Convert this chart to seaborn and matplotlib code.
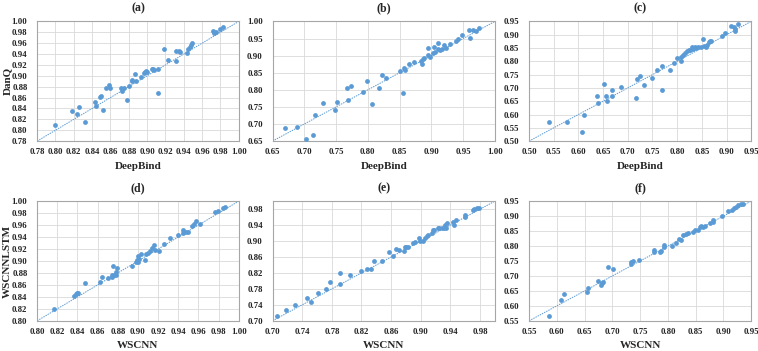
import numpy as np
import matplotlib
matplotlib.use("Agg")
import matplotlib.pyplot as plt
import seaborn as sns

# --- data ---
a_x = [0.800, 0.818, 0.823, 0.826, 0.832, 0.843, 0.844, 0.849, 0.850, 0.852, 0.855, 0.858,
       0.860, 0.871, 0.873, 0.875, 0.878, 0.880, 0.883, 0.884, 0.887, 0.888, 0.893, 0.897,
       0.898, 0.899, 0.900, 0.905, 0.906, 0.908, 0.912, 0.912, 0.918, 0.923, 0.932, 0.932,
       0.935, 0.936, 0.944, 0.945, 0.947, 0.948, 0.949, 0.972, 0.973, 0.975, 0.979, 0.983]
a_y = [0.809, 0.835, 0.830, 0.843, 0.815, 0.852, 0.845, 0.861, 0.863, 0.837, 0.878, 0.884,
       0.877, 0.878, 0.873, 0.878, 0.855, 0.882, 0.891, 0.892, 0.904, 0.891, 0.898, 0.906,
       0.907, 0.908, 0.907, 0.913, 0.913, 0.910, 0.913, 0.868, 0.949, 0.929, 0.945, 0.928,
       0.945, 0.943, 0.942, 0.950, 0.953, 0.956, 0.961, 0.982, 0.979, 0.980, 0.986, 0.989]

b_x = [0.670, 0.689, 0.702, 0.714, 0.717, 0.730, 0.749, 0.752, 0.767, 0.769, 0.774, 0.792,
       0.798, 0.807, 0.817, 0.823, 0.829, 0.850, 0.856, 0.857, 0.859, 0.864, 0.872, 0.884,
       0.885, 0.887, 0.889, 0.894, 0.895, 0.897, 0.902, 0.904, 0.906, 0.910, 0.911, 0.914,
       0.917, 0.920, 0.923, 0.929, 0.938, 0.942, 0.948, 0.959, 0.961, 0.966, 0.970, 0.975]
b_y = [0.688, 0.690, 0.656, 0.668, 0.727, 0.762, 0.742, 0.763, 0.805, 0.771, 0.810, 0.794,
       0.827, 0.758, 0.805, 0.843, 0.835, 0.855, 0.790, 0.864, 0.857, 0.875, 0.882, 0.884,
       0.874, 0.889, 0.894, 0.922, 0.902, 0.897, 0.908, 0.924, 0.912, 0.920, 0.936, 0.917,
       0.920, 0.930, 0.922, 0.933, 0.942, 0.948, 0.960, 0.974, 0.951, 0.976, 0.973, 0.982]

c_x = [0.541, 0.576, 0.611, 0.608, 0.640, 0.637, 0.652, 0.656, 0.657, 0.667, 0.667, 0.687,
       0.717, 0.718, 0.725, 0.732, 0.750, 0.759, 0.770, 0.770, 0.785, 0.794, 0.799, 0.807,
       0.808, 0.811, 0.816, 0.820, 0.824, 0.827, 0.830, 0.833, 0.837, 0.839, 0.843, 0.848,
       0.852, 0.854, 0.858, 0.861, 0.865, 0.867, 0.869, 0.890, 0.896, 0.909, 0.915, 0.917,
       0.918, 0.923]
c_y = [0.573, 0.570, 0.600, 0.535, 0.643, 0.671, 0.713, 0.671, 0.651, 0.694, 0.671, 0.703,
       0.663, 0.733, 0.743, 0.710, 0.736, 0.766, 0.781, 0.694, 0.768, 0.794, 0.811, 0.802,
       0.815, 0.825, 0.830, 0.837, 0.844, 0.842, 0.852, 0.846, 0.852, 0.849, 0.852, 0.852,
       0.884, 0.857, 0.855, 0.861, 0.871, 0.875, 0.877, 0.894, 0.906, 0.931, 0.930, 0.915,
       0.921, 0.940]

d_x = [0.817, 0.837, 0.839, 0.840, 0.841, 0.847, 0.862, 0.864, 0.870, 0.874, 0.874, 0.875,
       0.876, 0.878, 0.879, 0.878, 0.894, 0.898, 0.899, 0.900, 0.900, 0.901, 0.903, 0.907,
       0.908, 0.910, 0.912, 0.914, 0.916, 0.917, 0.921, 0.926, 0.932, 0.940, 0.945, 0.945,
       0.948, 0.950, 0.954, 0.956, 0.958, 0.962, 0.976, 0.979, 0.984, 0.986]
d_y = [0.820, 0.842, 0.844, 0.846, 0.847, 0.864, 0.865, 0.874, 0.871, 0.877, 0.874, 0.892,
       0.876, 0.882, 0.889, 0.876, 0.891, 0.898, 0.902, 0.908, 0.899, 0.904, 0.911, 0.901,
       0.912, 0.913, 0.916, 0.922, 0.926, 0.918, 0.916, 0.928, 0.938, 0.943, 0.952, 0.946,
       0.949, 0.948, 0.959, 0.961, 0.967, 0.962, 0.981, 0.983, 0.989, 0.991]

e_x = [0.706, 0.718, 0.730, 0.747, 0.752, 0.762, 0.772, 0.777, 0.791, 0.791, 0.804, 0.820,
       0.827, 0.833, 0.837, 0.847, 0.857, 0.862, 0.866, 0.870, 0.877, 0.878, 0.880, 0.883,
       0.890, 0.892, 0.898, 0.899, 0.903, 0.906, 0.909, 0.910, 0.915, 0.916, 0.918, 0.923,
       0.925, 0.928, 0.931, 0.933, 0.934, 0.935, 0.943, 0.945, 0.948, 0.959, 0.960, 0.970,
       0.972, 0.976, 0.978]
e_y = [0.712, 0.726, 0.739, 0.757, 0.746, 0.770, 0.779, 0.798, 0.820, 0.793, 0.816, 0.826,
       0.831, 0.831, 0.849, 0.850, 0.873, 0.863, 0.879, 0.878, 0.875, 0.885, 0.884, 0.886,
       0.895, 0.898, 0.908, 0.901, 0.901, 0.907, 0.913, 0.915, 0.920, 0.928, 0.927, 0.933,
       0.933, 0.933, 0.933, 0.939, 0.933, 0.944, 0.947, 0.940, 0.952, 0.965, 0.960, 0.979,
       0.980, 0.982, 0.983]

f_x = [0.586, 0.607, 0.613, 0.654, 0.657, 0.674, 0.680, 0.681, 0.683, 0.693, 0.702, 0.733,
       0.734, 0.738, 0.748, 0.775, 0.775, 0.785, 0.788, 0.793, 0.793, 0.807, 0.815, 0.820,
       0.823, 0.828, 0.832, 0.837, 0.845, 0.848, 0.854, 0.857, 0.860, 0.863, 0.867, 0.875,
       0.882, 0.882, 0.898, 0.908, 0.916, 0.919, 0.922, 0.926, 0.931, 0.935]
f_y = [0.567, 0.618, 0.641, 0.647, 0.660, 0.683, 0.669, 0.678, 0.681, 0.729, 0.724, 0.741,
       0.747, 0.749, 0.754, 0.786, 0.780, 0.780, 0.784, 0.802, 0.797, 0.799, 0.810, 0.822,
       0.821, 0.838, 0.840, 0.843, 0.847, 0.854, 0.854, 0.863, 0.866, 0.862, 0.868, 0.877,
       0.886, 0.880, 0.899, 0.917, 0.922, 0.927, 0.931, 0.938, 0.939, 0.940]

titles = ["(a)", "(b)", "(c)", "(d)", "(e)", "(f)"]
xlabels = ["DeepBind", "DeepBind", "DeepBind", "WSCNN", "WSCNN", "WSCNN"]
ylabels = ["DanQ", "", "", "WSCNNLSTM", "", ""]
# axis range and tick step per panel
limits = [(0.78, 1.00, 0.02), (0.65, 1.00, 0.05), (0.50, 0.95, 0.05),
          (0.80, 1.00, 0.02), (0.70, 1.00, 0.04), (0.55, 0.95, 0.05)]
series = [(a_x, a_y), (b_x, b_y), (c_x, c_y), (d_x, d_y), (e_x, e_y), (f_x, f_y)]

sns.set_theme(style="whitegrid")
plt.rcParams["font.family"] = ["Liberation Serif", "DejaVu Serif"]

blue = "#5B9BD5"
fig = plt.figure(figsize=(7.58, 3.51), dpi=100)

lefts = [0.049, 0.3595, 0.698]
bottoms = [0.598, 0.086]
widths = [0.266, 0.2935, 0.293]

for i in range(6):
    r, c = divmod(i, 3)
    ax = fig.add_axes([lefts[c], bottoms[r], widths[c], 0.341])
    x, y = series[i]
    lo, hi, step = limits[i]
    sns.scatterplot(x=x, y=y, ax=ax, color=blue, s=12, linewidth=0, zorder=3)
    ax.axline((lo, lo), slope=1, color=blue, lw=0.7, ls=(0, (1.5, 1)), zorder=2)
    ticks = np.arange(lo, hi + 1e-9, step)
    ax.set_xlim(lo, hi)
    ax.set_ylim(lo, hi)
    ax.set_xticks(ticks)
    ax.set_yticks(ticks)
    ax.set_xticklabels([f"{t:.2f}" for t in ticks])
    ax.set_yticklabels([f"{t:.2f}" for t in ticks])
    ax.tick_params(labelsize=6.3, length=0, colors="#222222")
    ax.tick_params(axis="x", pad=5)
    ax.tick_params(axis="y", pad=7)
    for lab in ax.get_xticklabels() + ax.get_yticklabels():
        lab.set_fontweight("bold")
    ax.grid(True, color="#D9D9D9", lw=0.6)
    for sp in ax.spines.values():
        sp.set_color("#A6A6A6")
        sp.set_linewidth(0.8)
    ax.set_title(titles[i], fontsize=8.5, fontweight="bold", pad=7)
    ax.set_xlabel(xlabels[i], fontsize=8, fontweight="bold", labelpad=4)
    ax.set_ylabel(ylabels[i], fontsize=8, fontweight="bold", labelpad=0)

fig.savefig("out.png", dpi=100)
